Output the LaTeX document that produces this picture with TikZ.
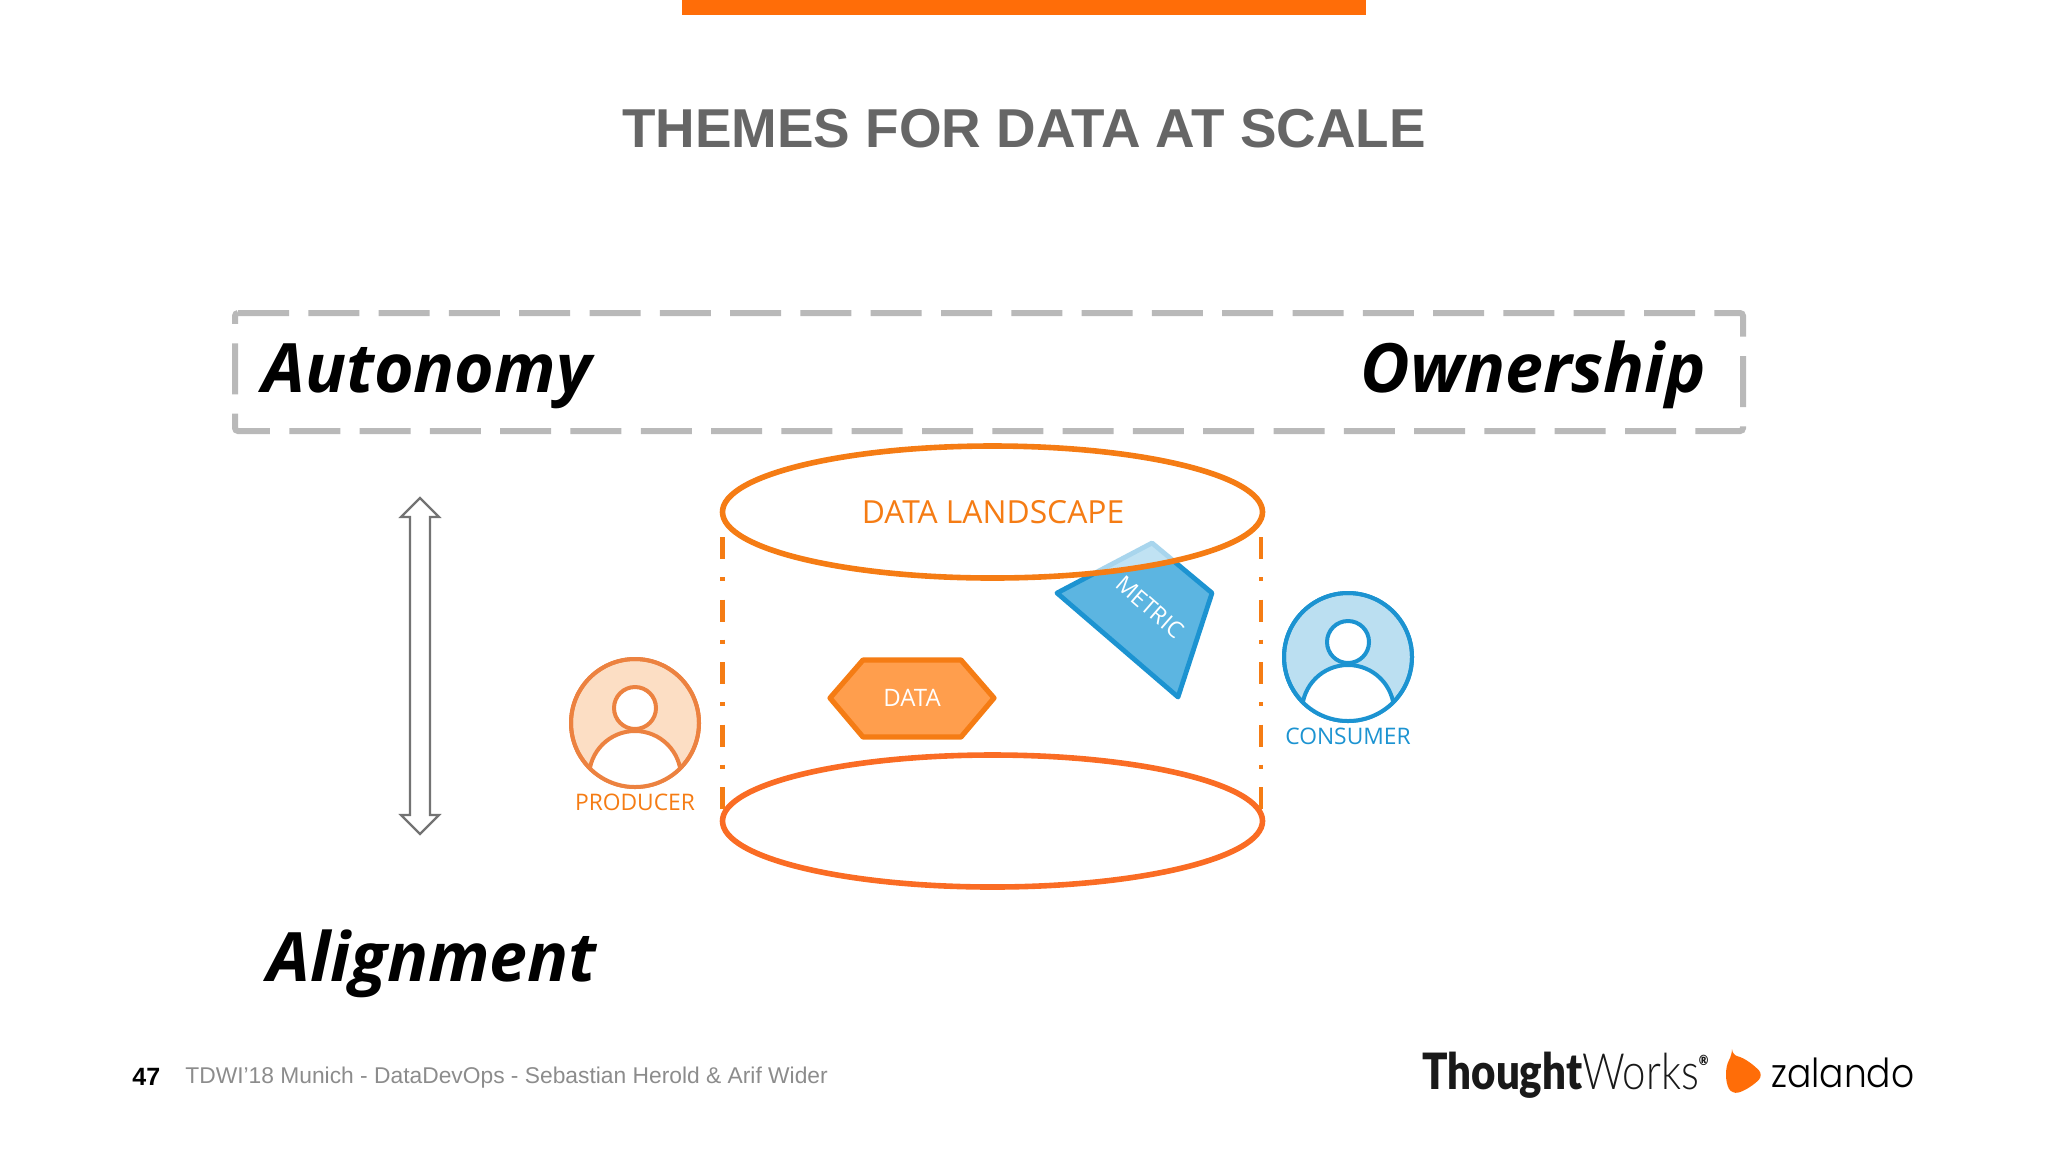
\documentclass[tikz,border=0pt]{standalone}
\usepackage{fontspec}
\usepackage{tikz}
\usetikzlibrary{shapes,arrows}
\usetikzlibrary{calc}
\setmainfont{Liberation Sans}
\newfontfamily\opensans{Open Sans}
\newfontfamily\logofont[FakeStretch=0.84]{Lato Black}
\newfontfamily\logolight[FakeStretch=0.84]{Lato Light}
\newfontfamily\zalfont[FakeStretch=0.9]{Poppins Light}
\definecolor{themeorange}{HTML}{F57C14}
\definecolor{lowerorange}{HTML}{FA6C24}
\definecolor{barorange}{HTML}{FF6D08}
\definecolor{themeblue}{HTML}{1C93D1}
\definecolor{metricblue}{HTML}{5CB5E1}
\definecolor{datafill}{HTML}{FF9E4D}
\definecolor{boxgray}{HTML}{B9B9B9}
\definecolor{producerline}{HTML}{EC8240}
\tikzstyle{titleblock} = [font=\opensans\bfseries\itshape\fontsize{34}{40}\selectfont, inner sep=0pt, text=black]
\tikzstyle{smalltext} = [font=\opensans\fontsize{11.4}{13}\selectfont, inner sep=0pt]
\tikzstyle{cylinderend} = [ellipse, draw, line width=2.8pt, minimum width=270pt, minimum height=66pt, inner sep=0pt]
\tikzstyle{personblock} = [circle, draw, line width=2pt, minimum size=128pt/2, inner sep=0pt]
\tikzstyle{sideline} = [draw=themeorange, line width=2.4pt, dash pattern=on 11pt off 9.1pt on 2pt off 9.15pt]
\newcommand{\drawperson}[4]{%
    \node [personblock, draw=#4, fill=#3] (#1) at (#2) {};
    \begin{scope}
        \clip (#1.center) circle [radius=64];
        \draw [draw=#4, fill=white, line width=2pt] ($(#1.center)+(0,54)$) circle [radius=46];
    \end{scope}
    \draw [draw=#4, fill=white, line width=2pt] ($(#1.center)+(0,-15)$) circle [radius=21];
    \draw [draw=#4, line width=2pt] (#1.center) circle [radius=64];
}

\begin{document}
\begin{tikzpicture}[x=0.5pt, y=-0.5pt]
    \useasboundingbox (0,0) rectangle (2048,1152);
    \fill [barorange] (682,0) rectangle (1366,15);
    \node [anchor=base, inner sep=0pt, text=black!60, font=\bfseries\fontsize{27.4}{32}\selectfont] (title) at (1024,147) {THEMES FOR DATA AT SCALE};

    % dashed band
    \draw [boxgray, line width=3pt, rounded corners=1.5pt, dash pattern=on 25.5pt off 9.65pt] (235,313) -- (1743,313) -- (1743,431) -- (235,431) -- cycle;
    \node [titleblock, anchor=base west] (autonomy) at (262,392) {Autonomy};
    \node [titleblock, anchor=base east] (ownership) at (1706,392) {Ownership};
    \node [titleblock, anchor=base west] (alignment) at (267,981) {Alignment};

    % double arrow
    \draw [black!55, line width=1.1pt, line join=miter] (420,498) -- (439,517) -- (430,517) -- (430,815) -- (439,815) -- (420,834) -- (401,815) -- (410,815) -- (410,517) -- (401,517) -- cycle;

    % metric and data
    \draw [fill=metricblue, draw=themeblue, line width=2.4pt, line join=round] (1152,543) -- (1212,593) -- (1178,697) -- (1057,593) -- cycle;
    \node [smalltext, text=white, rotate=-41] (metric) at (1150,607) {METRIC};
    \draw [fill=datafill, draw=themeorange, line width=2.6pt, line join=round] (830,698) -- (863,660) -- (961,660) -- (994,698) -- (961,737) -- (863,737) -- cycle;
    \node [smalltext, text=white, font=\opensans\fontsize{12}{14}\selectfont] (data) at (912,698) {DATA};

    % cylinder
    \node [cylinderend, draw=lowerorange] (lower) at (992.5,821) {};
    \node [cylinderend, draw=themeorange, fill=white, fill opacity=0.62, text opacity=1] (landscape) at (992.5,512) {};
    \node [smalltext, text=themeorange, font=\opensans\fontsize{15.9}{18}\selectfont] (landscapelabel) at (993,512) {DATA LANDSCAPE};
    \coordinate (leftstart) at (722.5,537);
    \coordinate (leftend) at (722.5,812);
    \coordinate (rightstart) at (1261,537);
    \coordinate (rightend) at (1261,812);

    % Draw edges
    \path [sideline] (leftstart) -- (leftend);
    \path [sideline] (rightstart) -- (rightend);

    % people
    \drawperson{producer}{635,723}{themeorange!25}{producerline}
    \node [smalltext, text=themeorange, below of=producer, node distance=39.5pt] (producerlabel) {PRODUCER};
    \drawperson{consumer}{1348,657}{themeblue!30}{themeblue}
    \node [smalltext, text=themeblue, below of=consumer, node distance=39.5pt] (consumerlabel) {CONSUMER};

    % footer
    \node [anchor=base west, inner sep=0pt, font=\bfseries\fontsize{12.5}{15}\selectfont] (pagenumber) at (132,1085) {47};
    \node [anchor=base west, inner sep=0pt, text=black!45, font=\fontsize{11.4}{15}\selectfont] (footer) at (185,1083) {TDWI’18 Munich - DataDevOps - Sebastian Herold \& Arif Wider};
    \node [anchor=base west, inner sep=0pt, text=black!90, font=\fontsize{25}{30}\selectfont] (thoughtworks) at (1422,1089) {{\logofont Thought}{\logolight Works}\raisebox{0.9ex}{\logofont\fontsize{7}{7}\selectfont ®}};
    \fill [barorange, rounded corners=3pt] (1732,1055) .. controls (1745,1058) and (1755,1066) .. (1763,1075) .. controls (1755,1084) and (1745,1091) .. (1732,1094) .. controls (1725,1082) and (1725,1067) .. cycle;
    \node [anchor=base west, inner sep=0pt, text=black, font=\zalfont\fontsize{20}{26}\selectfont] (zalando) at (1771,1087) {zalando};
\end{tikzpicture}
\end{document}
